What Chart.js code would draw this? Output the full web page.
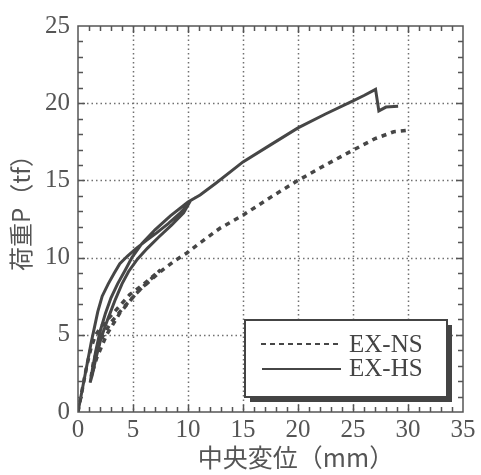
<!DOCTYPE html>
<html>
<head>
<meta charset="utf-8">
<script src="https://cdn.jsdelivr.net/npm/chart.js@4.4.0/dist/chart.umd.min.js"></script>
<style>
  html, body { margin: 0; padding: 0; background: #fff; }
  #wrap { width: 481px; height: 475px; }
</style>
</head>
<body>
<div id="wrap"><canvas id="c" width="481" height="475"></canvas></div>
<script>
// axis setup
const xMax = 35, yMax = 25;
const xTitle = '中央変位（mm）';
const yTitle = '荷重P（tf）';

// EX-HS (solid) - loading, unloading, reloading, then on to failure
const hsX = [0, 0.4, 0.8, 1.2, 1.5, 1.8, 2.2, 2.75, 3.3, 3.8, 4.5, 5.3, 6.2, 7.15, 8.2, 9.3, 10,
             9.6, 8.5, 7.3, 6.3, 5.4, 4.6, 4.0, 3.4, 2.7, 2.1, 1.6, 1.3, 1.1,
             1.3, 1.6, 2.0, 2.5, 3.0, 3.6, 4.3, 4.9, 5.8, 7.0, 8.4, 10,
             11.1, 12.5, 15, 17.5, 20, 22.5, 25, 26, 27.05, 27.35, 28, 29.1];
const hsY = [0, 1.5, 3, 4.5, 5.5, 6.5, 7.5, 8.3, 9.0, 9.6, 10.1, 10.6, 11.1, 11.6, 12.2, 12.9, 13.4,
             12.9, 12.1, 11.3, 10.6, 9.9, 9.1, 8.3, 7.3, 6.0, 4.8, 3.4, 2.4, 1.9,
             2.7, 3.9, 5.2, 6.4, 7.4, 8.3, 9.2, 10.0, 10.9, 11.8, 12.7, 13.6,
             14.05, 14.8, 16.2, 17.3, 18.4, 19.3, 20.15, 20.5, 20.9, 19.5, 19.75, 19.8];

// EX-NS (dashed)
const nsX = [0, 0.4, 0.8, 1.2, 1.6, 2.2, 3.2, 4.7, 6.0, 7.5,
             6.6, 5.2, 3.8, 2.6, 1.7, 1.2,
             1.4, 2.0, 3.0, 4.3, 5.6, 7.5, 8.8, 9.9, 11.1, 12.9, 15, 17.5, 20, 22.5, 25, 27, 28.7, 30];
const nsY = [0, 1.5, 3, 4.2, 5.0, 5.6, 6.4, 7.6, 8.3, 9.2,
             8.6, 7.6, 6.4, 5.0, 3.5, 2.3,
             3.2, 4.6, 5.8, 6.9, 7.9, 9.1, 9.8, 10.3, 10.96, 11.9, 12.75, 13.9, 15.0, 16.0, 16.96, 17.7, 18.15, 18.25];

const legendLabels = ['EX-NS', 'EX-HS'];

const ink = '#464646';
const serif = '"Liberation Serif", "Times New Roman", serif';
const cjk = '"Noto Sans CJK JP", sans-serif';

function toPoints(xs, ys) {
    return xs.map((x, i) => ({ x: x, y: ys[i] }));
}

// dotted grid every 5 units, drawn under the data
const dottedGrid = {
    id: 'dottedGrid',
    beforeDatasetsDraw(chart) {
        const c = chart.ctx;
        const a = chart.chartArea;
        const sx = chart.scales.x, sy = chart.scales.y;
        c.save();
        c.strokeStyle = '#707070';
        c.lineWidth = 1.5;
        c.setLineDash([1.5, 3]);
        c.beginPath();
        for (let v = 5; v < xMax; v += 5) {
            const px = Math.round(sx.getPixelForValue(v)) + 0.5;
            c.moveTo(px, a.top); c.lineTo(px, a.bottom);
        }
        for (let v = 5; v < yMax; v += 5) {
            const py = Math.round(sy.getPixelForValue(v)) + 0.5;
            c.moveTo(a.left, py); c.lineTo(a.right, py);
        }
        c.stroke();
        c.restore();
    }
};

// frame, inward minor ticks, titles and the shadowed legend box
const decor = {
    id: 'decor',
    afterDraw(chart) {
        const c = chart.ctx;
        const a = chart.chartArea;
        const sx = chart.scales.x, sy = chart.scales.y;
        c.save();
        c.strokeStyle = '#555';
        c.lineWidth = 1.5;
        c.setLineDash([]);
        // ticks inside on all sides
        c.beginPath();
        for (let v = 1; v < xMax; v++) {
            const px = Math.round(sx.getPixelForValue(v)) + 0.5;
            const len = v % 5 === 0 ? 7 : 5;
            c.moveTo(px, a.bottom); c.lineTo(px, a.bottom - len);
            c.moveTo(px, a.top); c.lineTo(px, a.top + len);
        }
        for (let v = 1; v < yMax; v++) {
            const py = Math.round(sy.getPixelForValue(v)) + 0.5;
            const len = v % 5 === 0 ? 7 : 5;
            c.moveTo(a.left, py); c.lineTo(a.left + len, py);
            c.moveTo(a.right, py); c.lineTo(a.right - len, py);
        }
        c.stroke();
        c.strokeRect(a.left, a.top, a.right - a.left, a.bottom - a.top);

        // axis titles
        c.fillStyle = '#555';
        c.font = '25px ' + cjk;
        c.textAlign = 'center';
        c.textBaseline = 'middle';
        c.fillText(xTitle, 296, 457);
        c.save();
        c.translate(21, 207);
        c.rotate(-Math.PI / 2);
        c.font = '24px ' + cjk;
        c.fillText(yTitle, 0, 0);
        c.restore();

        // legend box with drop shadow
        const bx = 245, by = 320, bw = 202, bh = 77;
        c.fillStyle = '#444';
        c.fillRect(bx + 5, by + 5, bw, bh);
        c.fillStyle = '#fff';
        c.fillRect(bx, by, bw, bh);
        c.strokeStyle = '#444';
        c.lineWidth = 2;
        c.strokeRect(bx, by, bw, bh);

        c.strokeStyle = ink;
        c.lineWidth = 2;
        c.setLineDash([5, 4]);
        c.beginPath(); c.moveTo(261, 344); c.lineTo(339, 344); c.stroke();
        c.setLineDash([]);
        c.beginPath(); c.moveTo(262, 369); c.lineTo(341, 369); c.stroke();

        c.fillStyle = '#444';
        c.font = '25px ' + serif;
        c.textAlign = 'left';
        c.fillText(legendLabels[0], 349, 345);
        c.fillText(legendLabels[1], 349, 369);
        c.restore();
    }
};

new Chart(document.getElementById('c'), {
    type: 'scatter',
    data: {
        datasets: [
            {
                label: legendLabels[0],
                data: toPoints(nsX, nsY),
                showLine: true,
                borderColor: ink,
                borderWidth: 3.5,
                borderDash: [5, 5],
                pointRadius: 0,
                tension: 0
            },
            {
                label: legendLabels[1],
                data: toPoints(hsX, hsY),
                showLine: true,
                borderColor: ink,
                borderWidth: 3,
                pointRadius: 0,
                tension: 0
            }
        ]
    },
    options: {
        responsive: false,
        animation: false,
        layout: { padding: { left: 0, top: 26, right: 18, bottom: 0 } },
        plugins: {
            legend: { display: false },
            tooltip: { enabled: false }
        },
        scales: {
            x: {
                type: 'linear',
                min: 0,
                max: xMax,
                afterFit(scale) { scale.height = 63; },
                border: { display: false },
                grid: { display: false, drawTicks: false },
                ticks: {
                    stepSize: 1,
                    autoSkip: false,
                    maxRotation: 0,
                    padding: 3,
                    color: '#555',
                    font: { family: serif, size: 25 },
                    callback: v => v % 5 === 0 ? String(v) : ''
                }
            },
            y: {
                type: 'linear',
                min: 0,
                max: yMax,
                afterFit(scale) { scale.width = 78; },
                border: { display: false },
                grid: { display: false, drawTicks: false },
                ticks: {
                    stepSize: 1,
                    autoSkip: false,
                    padding: 8,
                    color: '#555',
                    font: { family: serif, size: 25 },
                    callback: v => v % 5 === 0 ? String(v) : ''
                }
            }
        }
    },
    plugins: [dottedGrid, decor]
});
</script>
</body>
</html>
